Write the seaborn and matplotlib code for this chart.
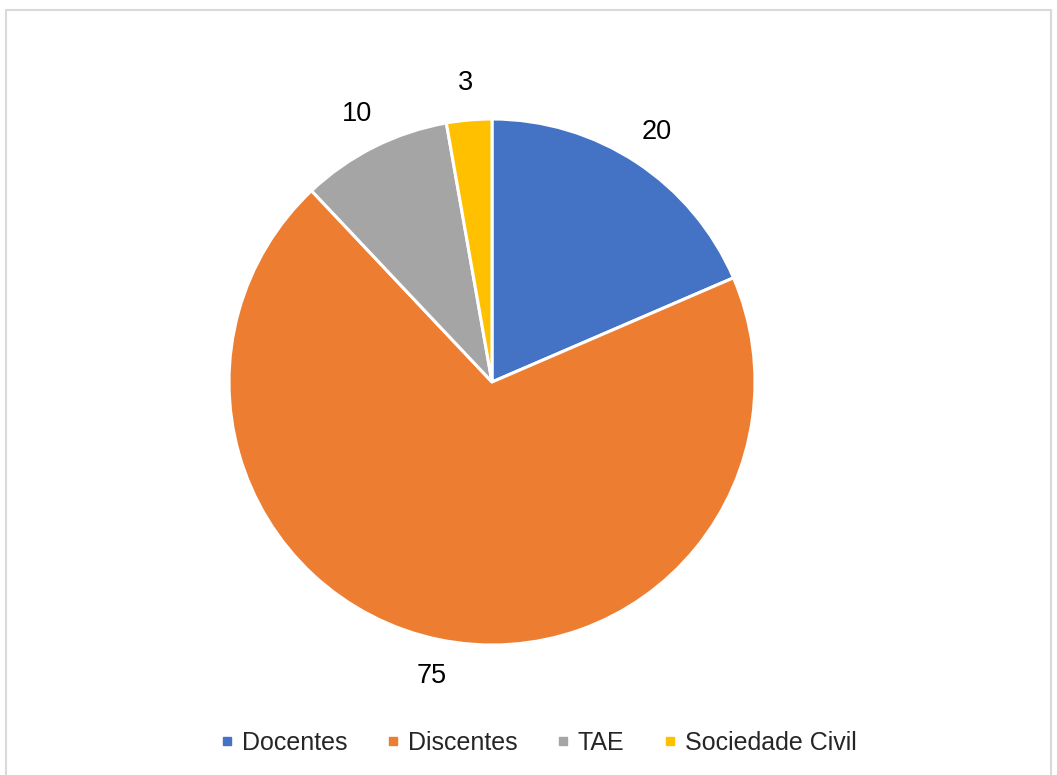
import matplotlib
matplotlib.use("Agg")
import matplotlib.pyplot as plt
from matplotlib.lines import Line2D
from matplotlib.patches import Rectangle
import seaborn as sns

categories = ["Docentes", "Discentes", "TAE", "Sociedade Civil"]
values = [20, 75, 10, 3]
colors = ["#4472C4", "#ED7D31", "#A5A5A5", "#FFC000"]

sns.set_theme(style="white")
plt.rcParams["font.family"] = ["Liberation Sans", "DejaVu Sans"]

W, H = 1057, 775
fig = plt.figure(figsize=(W / 100, H / 100), dpi=100)
fig.patch.set_facecolor("white")

# frame
fig.add_artist(Rectangle((6 / W, -0.01), (1051 - 6) / W, (H - 10) / H + 0.01,
                         transform=fig.transFigure, fill=False,
                         edgecolor="#D9D9D9", linewidth=1.5))

cx, cy, r = 492, 382, 263
ax = fig.add_axes([(cx - r) / W, (H - cy - r) / H, 2 * r / W, 2 * r / H])
wedges, texts = ax.pie(values, colors=colors, startangle=90, counterclock=False,
                       labels=[str(v) for v in values], labeldistance=1.14,
                       wedgeprops=dict(edgecolor="white", linewidth=2.2),
                       textprops=dict(fontsize=19.5, color="#000000"))
for t in texts:
    t.set_horizontalalignment("center")
    t.set_verticalalignment("center")
ax.set_xlim(-1, 1)
ax.set_ylim(-1, 1)
ax.set_aspect("equal")
ax.axis("off")

handles = [Line2D([0], [0], marker="s", linestyle="none", markersize=6,
                  markerfacecolor=c, markeredgecolor=c) for c in colors]
fig.legend(handles, categories, loc="center", bbox_to_anchor=(539 / W, 1 - 743 / H),
           ncol=4, frameon=False, fontsize=18, handletextpad=0.35,
           columnspacing=1.62, handlelength=0.45)

fig.savefig("out.png", dpi=100, facecolor="white")
